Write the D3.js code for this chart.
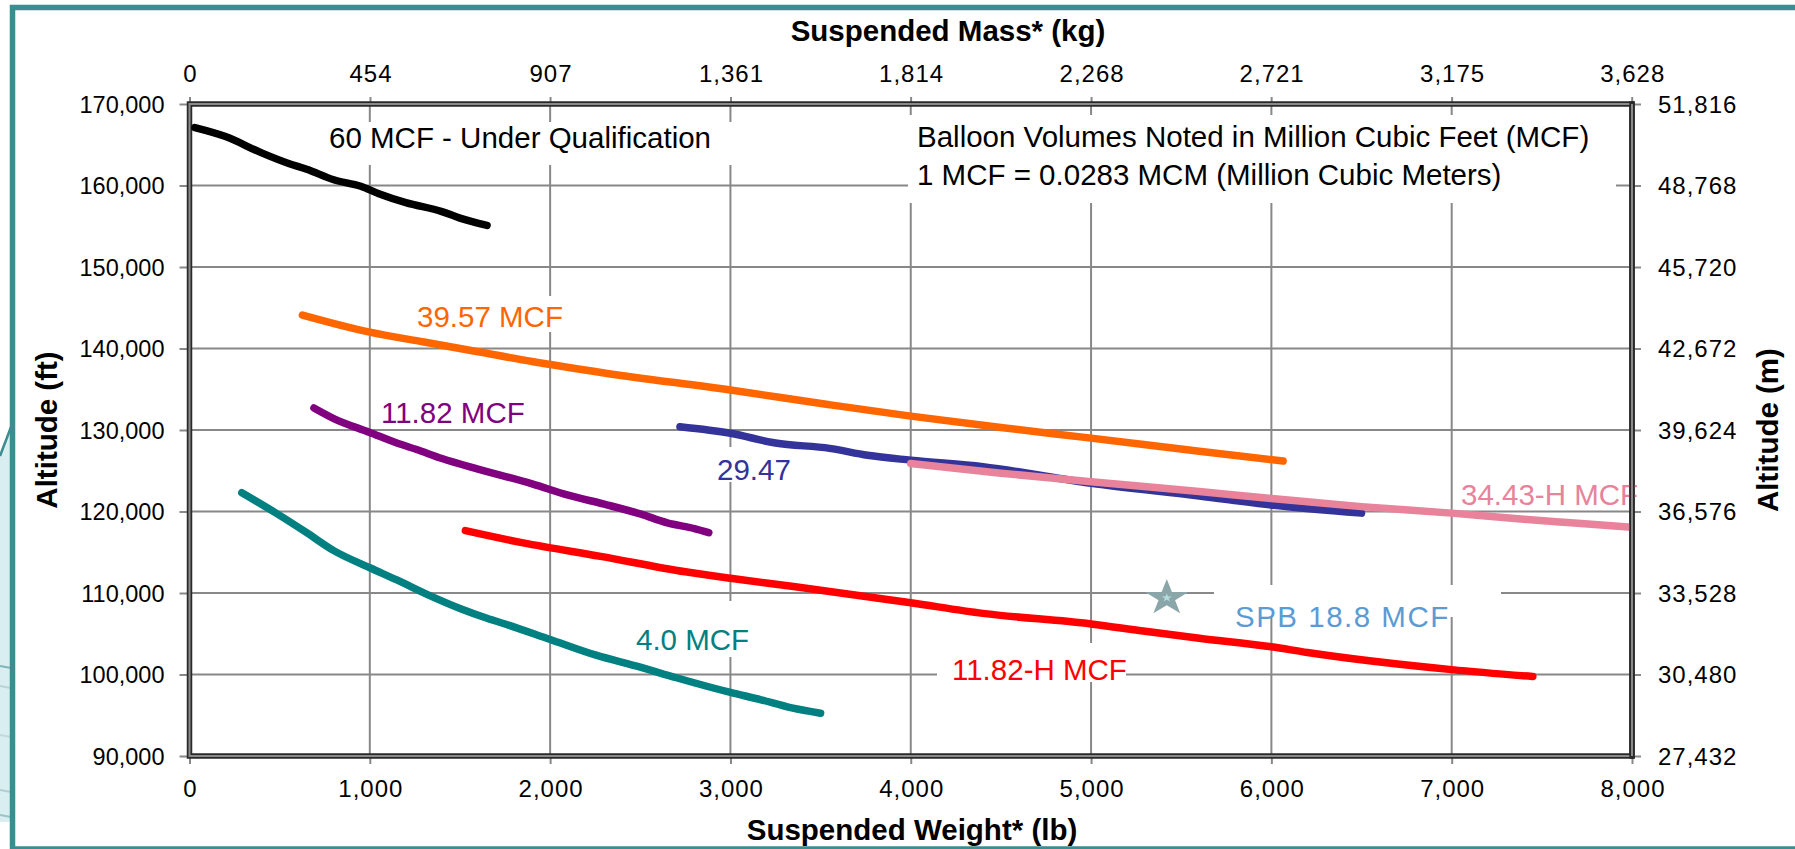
<!DOCTYPE html>
<html>
<head>
<meta charset="utf-8">
<script src="https://cdn.jsdelivr.net/npm/d3@7/dist/d3.min.js"></script>
<style>
  html, body { margin: 0; padding: 0; background: #fff; }
  svg { display: block; font-family: "Liberation Sans", Arial, sans-serif; }
</style>
</head>
<body>
<svg id="chart" width="1795" height="849"></svg>
<script>
// ---------------- DATA ----------------
const weightTicks = [0, 1000, 2000, 3000, 4000, 5000, 6000, 7000, 8000];           // lb
const weightTickLabels = ["0", "1,000", "2,000", "3,000", "4,000", "5,000", "6,000", "7,000", "8,000"];
const massTicks = [0, 454, 907, 1361, 1814, 2268, 2721, 3175, 3628];                // kg
const massTickLabels = ["0", "454", "907", "1,361", "1,814", "2,268", "2,721", "3,175", "3,628"];
const altFtTicks = [90000, 100000, 110000, 120000, 130000, 140000, 150000, 160000, 170000];
const altFtTickLabels = ["90,000", "100,000", "110,000", "120,000", "130,000", "140,000", "150,000", "160,000", "170,000"];
const altMTicks = [27432, 30480, 33528, 36576, 39624, 42672, 45720, 48768, 51816];
const altMTickLabels = ["27,432", "30,480", "33,528", "36,576", "39,624", "42,672", "45,720", "48,768", "51,816"];

// series: [suspended weight lb, altitude ft]
const mcf60 = [[30,167100],[200,166000],[400,164000],[550,162700],[650,162000],[800,160700],[950,159900],[1050,159000],[1200,157900],[1400,156800],[1500,156000],[1650,155100]];
const mcf3957 = [[626,144100],[1000,142000],[1300,140800],[1600,139600],[1900,138400],[2300,137000],[3000,134900],[3550,133100],[4000,131700],[4500,130300],[5000,129000],[5600,127400],[6065,126200]];
const mcf1182 = [[690,132700],[800,131400],[1000,129700],[1150,128400],[1260,127600],[1400,126500],[1600,125200],[1900,123400],[2100,122000],[2300,120900],[2500,119700],[2650,118600],[2800,117900],[2880,117400]];
const mcf2947 = [[2720,130400],[3000,129600],[3250,128400],[3550,127750],[3760,126900],[4000,126300],[4400,125500],[5000,123450],[5600,121900],[6000,120800],[6500,119800]];
const mcf3443H = [[4000,125900],[4500,124700],[5000,123650],[5600,122450],[6000,121600],[6500,120600],[7000,119800],[7400,119050],[7700,118550],[8000,118050]];
const mcf1182H = [[1530,117650],[1850,116150],[2280,114500],[2750,112600],[3000,111800],[3350,110800],[4000,108800],[4400,107500],[5000,106200],[5300,105300],[5600,104450],[6000,103400],[6200,102700],[7000,100600],[7450,99750]];
const mcf40 = [[290,122300],[480,119800],[650,117400],[800,115200],[1000,113100],[1150,111600],[1320,109800],[1500,108100],[1650,106900],[1750,106200],[2000,104300],[2250,102400],[2500,100900],[2700,99600],[3000,97800],[3170,96900],[3340,95900],[3500,95250]];
const spbPoint = [5420, 109400];  // SPB 18.8 MCF

const seriesNames = ["60 MCF - Under Qualification", "39.57 MCF", "11.82 MCF", "29.47", "34.43-H MCF", "11.82-H MCF", "4.0 MCF", "SPB 18.8 MCF"];

// ---------------- LAYOUT ----------------
const svg = d3.select("#chart");
const L = 189.5, R = 1632, T = 104, B = 756;
const x = d3.scaleLinear().domain([0, 8000]).range([L, R]);
const xKg = d3.scaleLinear().domain([0, 8000 * 0.45359237]).range([L, R]);
const y = d3.scaleLinear().domain([90000, 170000]).range([B, T]);
const yM = d3.scaleLinear().domain([90000 * 0.3048, 170000 * 0.3048]).range([B, T]);

const teal = "#3d8c90";

// left decorative slide background
const deco = svg.append("g");
deco.append("path").attr("d", "M0,452 L11,424 L11,822 L0,822 Z").attr("fill", "#d8eef0");
deco.append("path").attr("d", "M0,456 L11,427").attr("stroke", teal).attr("stroke-width", 2.5).attr("fill", "none");
[[666, "#7fb5b9"], [686, "#b9d3d6"], [735, "#c2d8da"], [790, "#b0cfd2"], [815, "#9cc3c6"]].forEach(([yy, c]) => {
  deco.append("line").attr("x1", 0).attr("x2", 11).attr("y1", yy).attr("y2", yy + 2).attr("stroke", c).attr("stroke-width", 2);
});

// outer frame
svg.append("rect").attr("x", 12.5).attr("y", 7.5).attr("width", 1800).attr("height", 841.5)
  .attr("fill", "none").attr("stroke", teal).attr("stroke-width", 5.5);

// gridlines
const grid = svg.append("g").attr("stroke", "#888").attr("stroke-width", 2);
weightTicks.slice(1, -1).forEach(v => grid.append("line").attr("x1", x(v)).attr("x2", x(v)).attr("y1", T).attr("y2", B));
altFtTicks.slice(1, -1).forEach(v => grid.append("line").attr("x1", L).attr("x2", R).attr("y1", y(v)).attr("y2", y(v)));

// axes (tick marks via d3 axes; labels drawn separately for spacing control)
const tickStyle = g => {
  g.select(".domain").remove();
  g.selectAll(".tick line").attr("stroke", "#888").attr("stroke-width", 2);
  g.selectAll(".tick text").remove();
};
svg.append("g").attr("transform", `translate(0,${B})`)
  .call(d3.axisBottom(x).tickValues(weightTicks).tickSize(8)).call(tickStyle);
svg.append("g").attr("transform", `translate(0,${T})`)
  .call(d3.axisTop(xKg).tickValues(massTicks).tickSize(7)).call(tickStyle);
svg.append("g").attr("transform", `translate(${L},0)`)
  .call(d3.axisLeft(y).tickValues(altFtTicks).tickSize(10)).call(tickStyle);
svg.append("g").attr("transform", `translate(${R},0)`)
  .call(d3.axisRight(yM).tickValues(altMTicks).tickSize(9)).call(tickStyle);

const tl = svg.append("g").attr("font-size", 24).attr("fill", "#000");
weightTicks.forEach((v, i) => tl.append("text").attr("letter-spacing", 1).attr("x", x(v) + 1).attr("y", 797).attr("text-anchor", "middle").text(weightTickLabels[i]));
massTicks.forEach((v, i) => tl.append("text").attr("letter-spacing", 1).attr("x", xKg(v) + 1).attr("y", 82).attr("text-anchor", "middle").text(massTickLabels[i]));
altFtTicks.forEach((v, i) => tl.append("text").attr("font-size", 23.5).attr("x", 164.5).attr("y", y(v) + 8.5).attr("text-anchor", "end").text(altFtTickLabels[i]));
altMTicks.forEach((v, i) => tl.append("text").attr("letter-spacing", 1).attr("x", 1658).attr("y", yM(v) + 8.5).attr("text-anchor", "start").text(altMTickLabels[i]));

// axis titles
const titles = svg.append("g").attr("font-size", 29.5).attr("font-weight", "bold").attr("fill", "#000").attr("text-anchor", "middle");
titles.append("text").attr("x", 948).attr("y", 41).text("Suspended Mass* (kg)");
titles.append("text").attr("x", 912).attr("y", 840).text("Suspended Weight* (lb)");
titles.append("text").attr("transform", `translate(57,${(T + B) / 2}) rotate(-90)`).text("Altitude (ft)");
titles.append("text").attr("transform", `translate(1778,${(T + B) / 2}) rotate(-90)`).text("Altitude (m)");

// white label boxes (drawn above gridlines)
const boxes = [
  [315, 122, 745, 165],   // 60 MCF
  [908, 115, 1616, 203],  // balloon note
  [405, 296, 575, 332],   // 39.57
  [374, 396, 540, 429],   // 11.82
  [706, 447, 800, 482],   // 29.47
  [1456, 478, 1630, 508], // 34.43-H
  [1214, 585, 1501, 617], // SPB
  [625, 601, 760, 657],   // 4.0
  [937, 643, 1126, 682]   // 11.82-H
];
svg.append("g").selectAll("rect").data(boxes).join("rect")
  .attr("x", d => d[0]).attr("y", d => d[1]).attr("width", d => d[2] - d[0]).attr("height", d => d[3] - d[1])
  .attr("fill", "#fff");

// plot border (double line look)
svg.append("rect").attr("x", L).attr("y", T).attr("width", R - L).attr("height", B - T)
  .attr("fill", "none").attr("stroke", "#2a2a2a").attr("stroke-width", 5.5);
svg.append("rect").attr("x", L).attr("y", T).attr("width", R - L).attr("height", B - T)
  .attr("fill", "none").attr("stroke", "#8a8a8a").attr("stroke-width", 2);

// series lines
const line = d3.line().curve(d3.curveMonotoneX).x(d => x(d[0])).y(d => y(d[1]));
const series = [
  { data: mcf60, color: "#000000" },
  { data: mcf3957, color: "#ff6600" },
  { data: mcf1182, color: "#800080" },
  { data: mcf2947, color: "#333399" },
  { data: mcf3443H, color: "#e8839b" },
  { data: mcf1182H, color: "#ff0000" },
  { data: mcf40, color: "#008080" }
];
svg.append("clipPath").attr("id", "plotclip").append("rect")
  .attr("x", L - 10).attr("y", T - 10).attr("width", R - L + 10).attr("height", B - T + 20);
svg.append("g").attr("clip-path", "url(#plotclip)").selectAll("path").data(series).join("path")
  .attr("d", d => line(d.data)).attr("fill", "none").attr("stroke", d => d.color)
  .attr("stroke-width", 7.5).attr("stroke-linecap", "round").attr("stroke-linejoin", "round");

// SPB star
const starG = svg.append("g").attr("transform", `translate(${x(spbPoint[0])},${y(spbPoint[1])})`);
starG.append("path").attr("d", d3.symbol(d3.symbolStar, 19 * 19 / 0.8908130915)()).attr("transform", "scale(1.2,1)").attr("fill", "#8aa6a9");
starG.append("path").attr("d", d3.symbol(d3.symbolStar, 4.5 * 4.5 / 0.8908130915)()).attr("transform", "scale(1.2,1)").attr("fill", "#b3dde0");

// series labels
const lab = svg.append("g").attr("font-size", 29.5);
lab.append("text").attr("x", 329).attr("y", 148).attr("fill", "#000").text(seriesNames[0]);
lab.append("text").attr("x", 417).attr("y", 327).attr("fill", "#ff6600").text(seriesNames[1]);
lab.append("text").attr("x", 381).attr("y", 423).attr("fill", "#800080").text(seriesNames[2]);
lab.append("text").attr("x", 717).attr("y", 480).attr("fill", "#333399").text(seriesNames[3]);
lab.append("text").attr("x", 1461).attr("y", 505).attr("fill", "#e8839b").text(seriesNames[4]);
lab.append("text").attr("x", 952).attr("y", 680).attr("fill", "#ff0000").text(seriesNames[5]);
lab.append("text").attr("x", 636).attr("y", 650).attr("fill", "#008080").text(seriesNames[6]);
lab.append("text").attr("x", 1235).attr("y", 627).attr("fill", "#5b9bd5").attr("letter-spacing", 1.5).text(seriesNames[7]);
lab.append("text").attr("x", 917).attr("y", 147).attr("fill", "#000").text("Balloon Volumes Noted in Million Cubic Feet (MCF)");
lab.append("text").attr("x", 917).attr("y", 185).attr("fill", "#000").text("1 MCF = 0.0283 MCM (Million Cubic Meters)");

// right border redrawn over the pink label overflow
svg.append("line").attr("x1", R).attr("x2", R).attr("y1", T - 2.75).attr("y2", B + 2.75).attr("stroke", "#2a2a2a").attr("stroke-width", 5.5);
svg.append("line").attr("x1", R).attr("x2", R).attr("y1", T).attr("y2", B).attr("stroke", "#8a8a8a").attr("stroke-width", 2);
</script>
</body>
</html>
